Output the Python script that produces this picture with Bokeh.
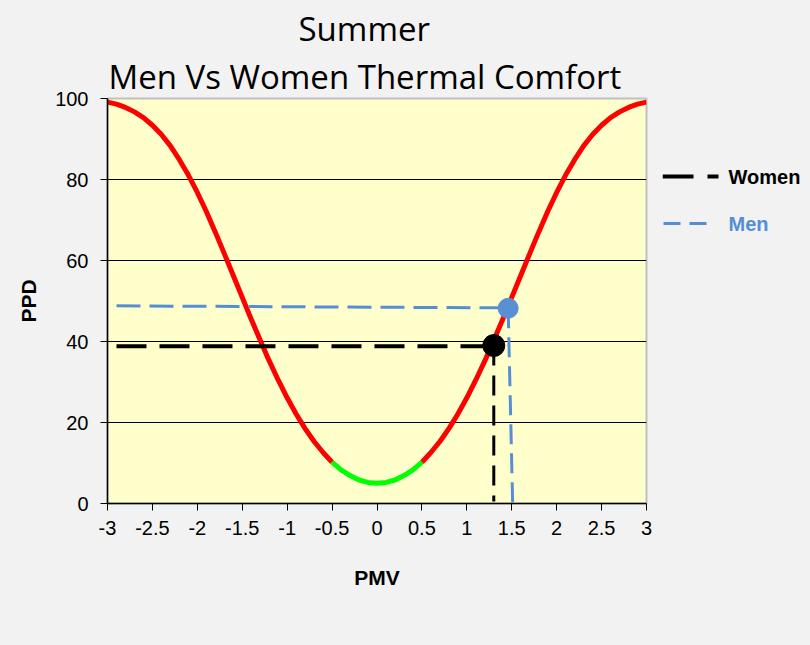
from bokeh.plotting import figure
from bokeh.layouts import row
from bokeh.models import Range1d, FixedTicker, CustomJSTickFormatter, Title
from bokeh.core.properties import value
from bokeh.embed import file_html
from bokeh.resources import INLINE

# PPD curve (PMV vs PPD)
pmv = [-3.0, -2.9, -2.8, -2.7, -2.6, -2.5, -2.4, -2.3, -2.2, -2.1, -2.0, -1.9, -1.8, -1.7, -1.6,
       -1.5, -1.4, -1.3, -1.2, -1.1, -1.0, -0.9, -0.8, -0.7, -0.6, -0.5, -0.4, -0.3, -0.2, -0.1,
       0.0, 0.1, 0.2, 0.3, 0.4, 0.5, 0.6, 0.7, 0.8, 0.9, 1.0, 1.1, 1.2, 1.3, 1.4, 1.5, 1.6, 1.7,
       1.8, 1.9, 2.0, 2.1, 2.2, 2.3, 2.4, 2.5, 2.6, 2.7, 2.8, 2.9, 3.0]
ppd = [99.1, 98.6, 97.8, 96.7, 95.3, 93.4, 91.1, 88.3, 84.9, 81.1, 76.8, 72.1, 67.0, 61.7, 56.3,
       50.9, 45.5, 40.3, 35.2, 30.5, 26.1, 22.1, 18.5, 15.3, 12.6, 10.2, 8.3, 6.9, 5.8, 5.2,
       5.0, 5.2, 5.8, 6.9, 8.3, 10.2, 12.6, 15.3, 18.5, 22.1, 26.1, 30.5, 35.2, 40.3, 45.5, 50.9,
       56.3, 61.7, 67.0, 72.1, 76.8, 81.1, 84.9, 88.3, 91.1, 93.4, 95.3, 96.7, 97.8, 98.6, 99.1]
comfort_low, comfort_high = -0.5, 0.5

# Women / Men points and guide lines
women_pmv, women_ppd = 1.3, 39.0
women_h_x = [-2.9, 1.3]
women_h_y = [38.8, 38.8]
women_v_x = [1.3, 1.3]
women_v_y = [39.0, 0.5]

men_pmv, men_ppd = 1.46, 48.2
men_h_x = [-2.9, 1.46]
men_h_y = [48.8, 48.3]
men_v_x = [1.46, 1.51]
men_v_y = [48.2, 0.0]

x_ticks = [-3, -2.5, -2, -1.5, -1, -0.5, 0, 0.5, 1, 1.5, 2, 2.5, 3]
y_ticks = [0, 20, 40, 60, 80, 100]
grid_ticks = [20, 40, 60, 80]

series_names = ["Women", "Men"]
series_colors = ["black", "#558ed5"]

BG = "#f2f2f2"
P_W = 662

p = figure(width=P_W, height=645, x_range=Range1d(-3, 3), y_range=Range1d(0, 100),
           output_backend="svg", toolbar_location=None,
           min_border_left=107, min_border_right=P_W - 646, min_border_top=98, min_border_bottom=142,
           background_fill_color="#ffffcc", border_fill_color=BG,
           outline_line_color="#c0c0c0", outline_line_width=2)

# Titles
p.title.visible = False
p.add_layout(Title(text="Men Vs Women Thermal Comfort", align="left", offset=1,
                   text_font="Open Sans", text_font_size="33px", text_font_style="normal",
                   text_color="black", standoff=0), "above")
p.add_layout(Title(text="Summer", align="left", offset=191,
                   text_font="Open Sans", text_font_size="33px", text_font_style="normal",
                   text_color="black", standoff=2), "above")

# Axes
for ax in (p.xaxis[0], p.yaxis[0]):
    ax.axis_line_color = "black"
    ax.axis_line_width = 1.5
    ax.major_tick_line_color = "black"
    ax.major_tick_out = 7
    ax.major_tick_in = 0
    ax.minor_tick_line_color = None
    ax.major_label_text_font = "Liberation Sans"
    ax.major_label_text_font_size = "20px"
    ax.major_label_text_color = "black"
    ax.axis_label_text_font = "Liberation Sans"
    ax.axis_label_text_font_size = "21px"
    ax.axis_label_text_font_style = "bold"
    ax.axis_label_text_color = "black"

p.xaxis.ticker = FixedTicker(ticks=x_ticks)
p.yaxis.ticker = FixedTicker(ticks=y_ticks)
p.xaxis.formatter = CustomJSTickFormatter(code="return tick.toString();")
p.xaxis.axis_label = "PMV"
p.yaxis.axis_label = "PPD"
p.xaxis.major_label_standoff = 10
p.yaxis.major_label_standoff = 12
p.xaxis.axis_label_standoff = 28
p.yaxis.axis_label_standoff = 12

p.xgrid.visible = False
p.ygrid.ticker = FixedTicker(ticks=grid_ticks)
p.ygrid.grid_line_color = "black"
p.ygrid.grid_line_width = 1

# Curve segments
lx = [x for x in pmv if x <= comfort_low]
ly = [y for x, y in zip(pmv, ppd) if x <= comfort_low]
mx = [x for x in pmv if comfort_low <= x <= comfort_high]
my = [y for x, y in zip(pmv, ppd) if comfort_low <= x <= comfort_high]
rx = [x for x in pmv if x >= comfort_high]
ry = [y for x, y in zip(pmv, ppd) if x >= comfort_high]
p.line(lx, ly, line_color="#ff0000", line_width=5)
p.line(rx, ry, line_color="#ff0000", line_width=5)
p.line(mx, my, line_color="#00ff00", line_width=5)

# Guide lines
p.line(women_h_x, women_h_y, line_color=series_colors[0], line_width=4, line_dash="30 13")
p.line(women_v_x, women_v_y, line_color=series_colors[0], line_width=3, line_dash="20 10")
p.line(men_h_x, men_h_y, line_color=series_colors[1], line_width=3, line_dash="24 9")
p.line(men_v_x, men_v_y, line_color=series_colors[1], line_width=3, line_dash="20 9")

p.scatter([men_pmv], [men_ppd], size=20, fill_color="#5b8fd4", line_color="#5b8fd4")
p.scatter([women_pmv], [women_ppd], size=22, fill_color="black", line_color="black")

# Legend panel (separate figure in pixel coordinates, to the right of the chart)
# Its frame is aligned with the chart frame (y pixels 98..503 of the page).
leg = figure(width=810 - P_W, height=645, x_range=Range1d(P_W, 810), y_range=Range1d(503, 98),
             output_backend="svg", toolbar_location=None, x_axis_type=None, y_axis_type=None,
             min_border_left=0, min_border_right=0, min_border_top=98, min_border_bottom=142,
             background_fill_color=BG, border_fill_color=BG, outline_line_color=None)
leg.xgrid.visible = False
leg.ygrid.visible = False
leg.line([653 + 9, 718], [176, 176], line_color=series_colors[0], line_width=4, line_dash="31 14")
leg.line([663, 714], [223, 223], line_color=series_colors[1], line_width=3, line_dash="17 9")
leg.text([728, 728], [176, 223], text=series_names, text_color=series_colors,
         text_font=value("Liberation Sans"), text_font_size="20px", text_font_style="bold",
         text_baseline="middle", text_align="left")

layout = row(p, leg, spacing=0, styles={"background-color": BG})
html = file_html(layout, INLINE)
html = html.replace("<body>", '<body style="background-color:#f2f2f2; margin:0;">', 1)
open("out.html", "w").write(html)
